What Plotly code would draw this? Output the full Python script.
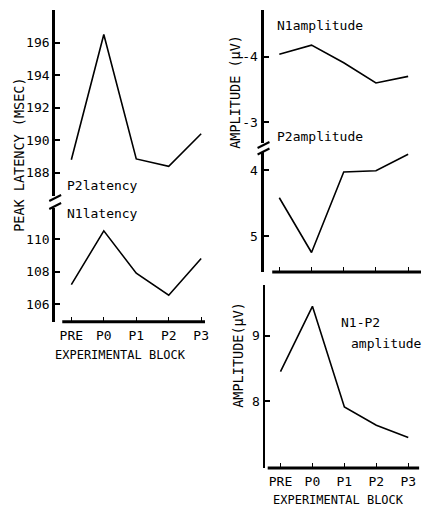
import plotly.graph_objects as go

W, H = 429, 510
blocks = ["PRE", "P0", "P1", "P2", "P3"]
xpos = [0, 1, 2, 3, 4]
p2_latency = [188.8, 196.5, 188.85, 188.4, 190.4]
n1_latency = [107.2, 110.5, 107.9, 106.55, 108.8]
n1_amplitude = [-4.04, -4.18, -3.91, -3.60, -3.70]
p2_amplitude = [4.42, 5.25, 4.03, 4.01, 3.76]
n1p2_amplitude = [8.45, 9.45, 7.91, 7.63, 7.44]

FONT = "DejaVu Sans Mono"
BLK = "black"


def fx(px):
    return px / W


def fy(py):
    return 1 - py / H


fig = go.Figure()
line = dict(color=BLK, width=1.6)
fig.add_trace(go.Scatter(x=xpos, y=n1_latency, mode="lines", line=line, xaxis="x", yaxis="y"))
fig.add_trace(go.Scatter(x=xpos, y=p2_latency, mode="lines", line=line, xaxis="x2", yaxis="y2"))
fig.add_trace(go.Scatter(x=xpos, y=p2_amplitude, mode="lines", line=line, xaxis="x3", yaxis="y3"))
fig.add_trace(go.Scatter(x=xpos, y=n1_amplitude, mode="lines", line=line, xaxis="x4", yaxis="y4"))
fig.add_trace(go.Scatter(x=xpos, y=n1p2_amplitude, mode="lines", line=line, xaxis="x5", yaxis="y5"))

tickfont = dict(family=FONT, size=13, color=BLK)
yax_common = dict(showline=True, linecolor=BLK, ticks="inside", ticklen=5, tickwidth=1.5,
                  tickcolor=BLK, showgrid=False, zeroline=False, tickfont=tickfont, fixedrange=True)
xax_common = dict(showline=False, ticks="inside", ticklen=5, tickwidth=1.2, tickcolor=BLK,
                  showgrid=False, zeroline=False, tickfont=tickfont, tickvals=xpos,
                  ticktext=blocks, fixedrange=True, ticklabelstandoff=4)

left_dom = [fx(55.7), fx(207)]
left_rng = [-0.498, 4.12]
right_dom = [fx(266), fx(425)]
right_rng = [-0.49, 4.4]
rb_dom = [fx(267), fx(425)]
rb_rng = [-0.5, 4.4]

fig.update_layout(
    width=W, height=H, margin=dict(l=0, r=0, t=0, b=0),
    paper_bgcolor="white", plot_bgcolor="white", showlegend=False,
    font=dict(family=FONT, size=13, color=BLK),
    xaxis=dict(xax_common, domain=left_dom, range=left_rng, anchor="y"),
    yaxis=dict(yax_common, domain=[fy(321.7), fy(208)], range=[104.93, 111.9],
               tickvals=[106, 108, 110], anchor="x", linewidth=3),
    xaxis2=dict(domain=left_dom, range=left_rng, anchor="y2", visible=False, fixedrange=True),
    yaxis2=dict(yax_common, domain=[fy(196), fy(10)], range=[186.57, 198.01],
                tickvals=[188, 190, 192, 194, 196], anchor="x2", linewidth=3),
    xaxis3=dict(xax_common, domain=right_dom, range=right_rng, anchor="y3", showticklabels=False),
    yaxis3=dict(yax_common, domain=[fy(272), fy(152)], range=[5.545, 3.727],
                tickvals=[4, 5], anchor="x3", linewidth=3),
    xaxis4=dict(domain=right_dom, range=right_rng, anchor="y4", visible=False, fixedrange=True),
    yaxis4=dict(yax_common, domain=[fy(143), fy(10)], range=[-2.677, -4.72],
                tickvals=[-4, -3], ticktext=["-4", "-3"], anchor="x4", linewidth=3),
    xaxis5=dict(xax_common, domain=rb_dom, range=rb_rng, anchor="y5"),
    yaxis5=dict(yax_common, domain=[fy(468), fy(285)], range=[6.974, 9.776],
                tickvals=[8, 9], anchor="x5", linewidth=2),
)

shapes = []
# x-axis lines
shapes.append(dict(type="line", xref="x", yref="y domain", x0=-0.28, x1=4.12, y0=0, y1=0,
                   line=dict(color=BLK, width=3)))
shapes.append(dict(type="line", xref="x3", yref="y3 domain", x0=-0.22, x1=4.4, y0=0, y1=0,
                   line=dict(color=BLK, width=3)))
shapes.append(dict(type="line", xref="x5", yref="y5 domain", x0=-0.4, x1=4.34, y0=0, y1=0,
                   line=dict(color=BLK, width=3)))
# axis break marks
for (cx, cy) in [(55.7, 198), (55.7, 206), (266, 145), (266, 151.5)]:
    shapes.append(dict(type="line", xref="paper", yref="paper",
                       x0=fx(cx - 6), y0=fy(cy + 3), x1=fx(cx + 6), y1=fy(cy - 3),
                       line=dict(color=BLK, width=2)))
fig.update_layout(shapes=shapes)

ann = []


def txt(t, px, py, xanchor="left", size=13, angle=0):
    ann.append(dict(text=t, x=fx(px), y=fy(py), xref="paper", yref="paper", showarrow=False,
                    xanchor=xanchor, yanchor="middle", textangle=angle,
                    font=dict(family=FONT, size=size, color=BLK)))


txt("PEAK LATENCY (MSEC)", 19, 155, xanchor="center", size=13.5, angle=-90)
txt("AMPLITUDE (μV)", 237, 92, xanchor="center", size=13.5, angle=-90)
txt("AMPLITUDE(μV)", 240, 355, xanchor="center", size=13.5, angle=-90)
txt("P2latency", 66, 185)
txt("N1latency", 66, 213)
txt("N1amplitude", 278, 25)
txt("P2amplitude", 278, 137)
txt("N1-P2", 342, 322)
txt("amplitude", 352, 343)
txt("EXPERIMENTAL BLOCK", 122, 355, xanchor="center", size=12)
txt("EXPERIMENTAL BLOCK", 342, 500, xanchor="center", size=12)
fig.update_layout(annotations=ann)

fig.write_html("out.html")
